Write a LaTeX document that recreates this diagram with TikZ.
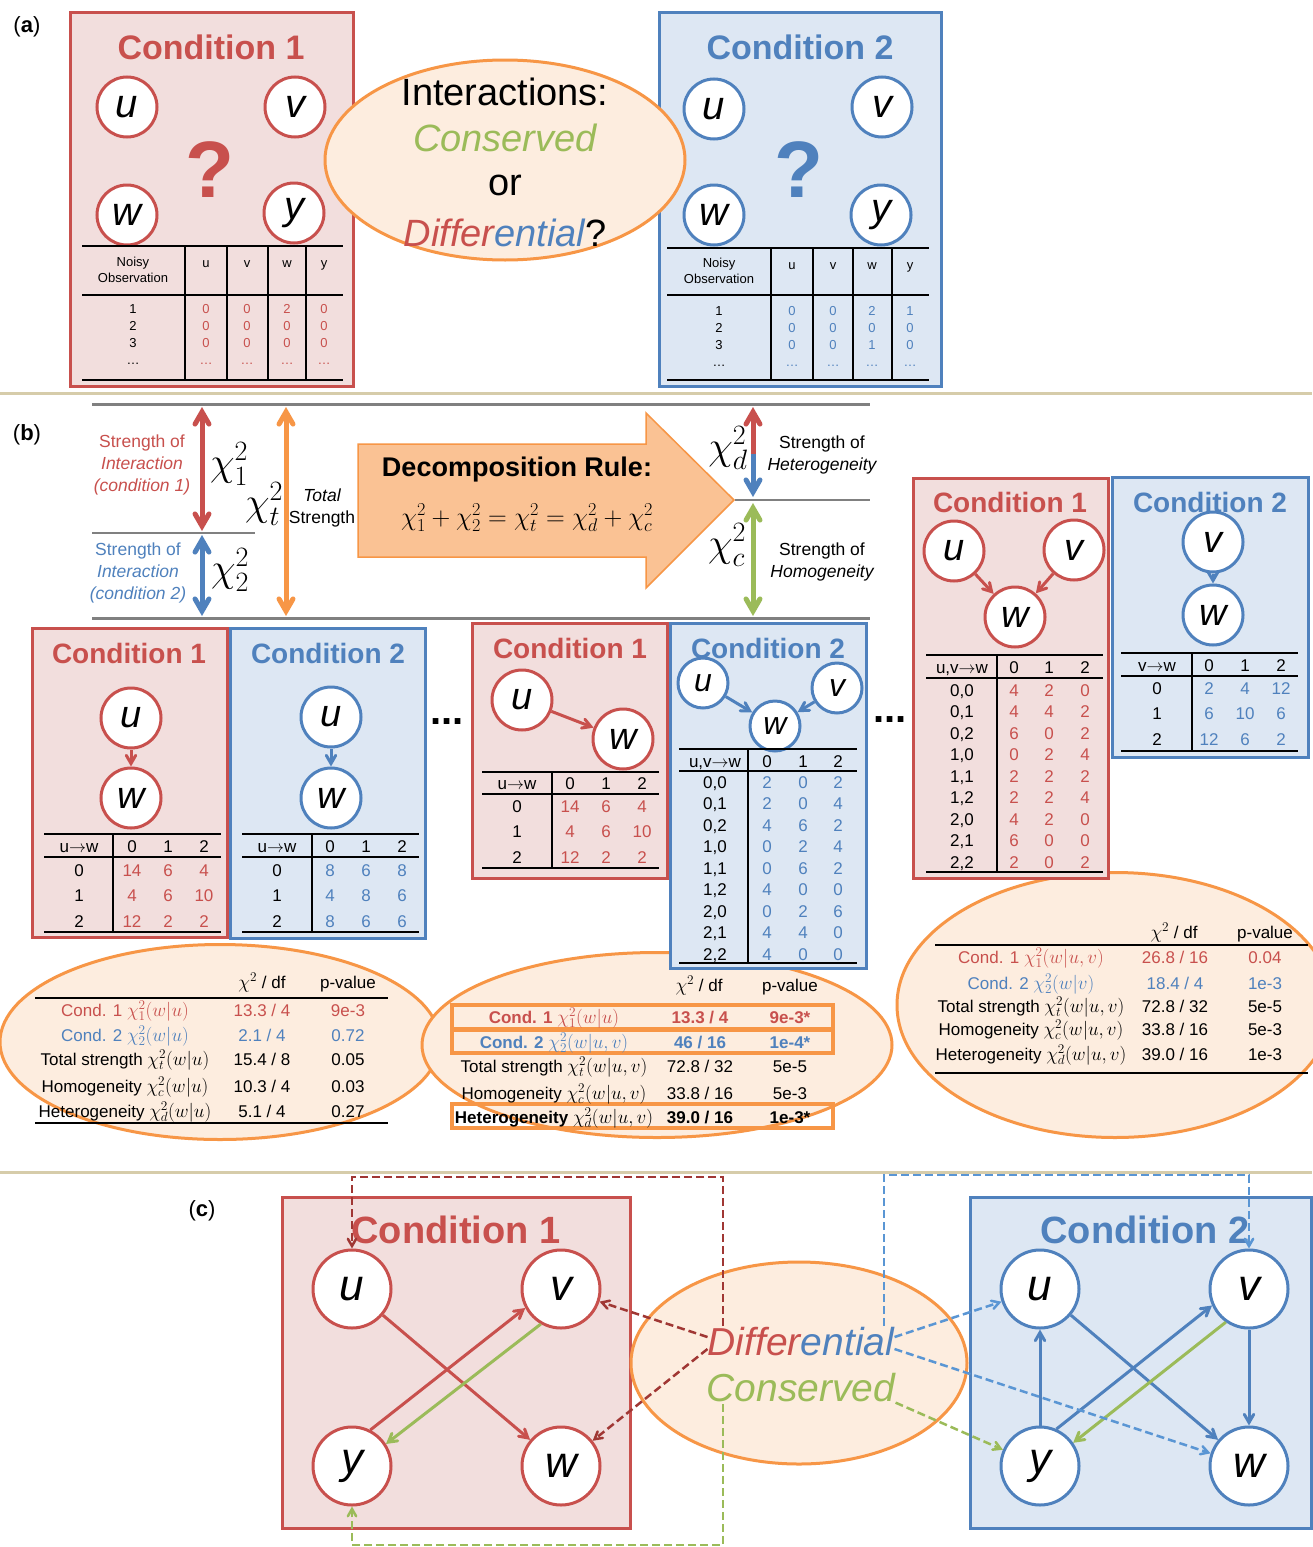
\RequirePackage{fix-cm}
\documentclass[tikz,border=0pt]{standalone}
\usepackage{fontspec}
\setmainfont{Liberation Sans}
\usepackage{tikz}
\usetikzlibrary{shapes,arrows}
\usetikzlibrary{automata,arrows,positioning,calc}

\definecolor{cred}{RGB}{200,80,77}
\definecolor{cblue}{RGB}{79,129,189}
\definecolor{cgreen}{RGB}{155,187,89}
\definecolor{corange}{RGB}{247,150,70}
\definecolor{cpink}{RGB}{242,222,221}
\definecolor{cpale}{RGB}{221,231,243}
\definecolor{cpeach}{RGB}{253,237,223}
\definecolor{carrow}{RGB}{250,194,148}
\definecolor{csep}{RGB}{214,204,170}
\definecolor{cgrey}{RGB}{128,128,128}
\definecolor{cdarkred}{RGB}{160,55,52}
\definecolor{cdashblue}{RGB}{90,150,212}
\newcommand{\fsz}[2]{\fontsize{#1}{#2}\selectfont}
\newcommand{\mth}[1]{{\fsz{19}{20}$#1$}}

\begin{document}
\begin{tikzpicture}[x=1pt, y=-1pt, >=angle 60, semithick]
\tikzstyle{every state}=[fill=white,draw=black,line width=3pt,inner sep=0pt,minimum size=60pt,font=\fsz{40}{40}\itshape]
\tikzstyle{redstate}=[state,draw=cred]
\tikzstyle{bluestate}=[state,draw=cblue]
\tikzstyle{redbox}=[draw=cred,fill=cpink,line width=3pt]
\tikzstyle{bluebox}=[draw=cblue,fill=cpale,line width=3pt]
\tikzstyle{oval}=[ellipse,draw=corange,fill=cpeach,line width=3pt,inner sep=0pt]
\tikzstyle{plabel}=[font=\fsz{22}{24},inner sep=0pt]
\tikzstyle{bigtitle}=[font=\fsz{34}{36}\bfseries,inner sep=0pt]
\tikzstyle{condtitle}=[font=\fsz{28}{30}\bfseries,inner sep=0pt]
\tikzstyle{qmark}=[font=\fsz{80}{80}\bfseries,inner sep=0pt]
\tikzstyle{qtext}=[font=\fsz{38}{40},inner sep=0pt]
\tikzstyle{obscell}=[font=\fsz{13}{16},inner sep=0pt,text height=9pt,text depth=0pt]
\tikzstyle{cell}=[font=\fsz{17}{20},inner sep=0pt,text height=12pt,text depth=0pt]
\tikzstyle{sidetext}=[font=\fsz{17.5}{22},align=center,inner sep=0pt]
\tikzstyle{chilab}=[font=\fsz{40}{40},inner sep=0pt]
\tikzstyle{tabrule}=[line width=2pt]
\tikzstyle{rededge}=[draw=cred,line width=3pt,->]
\tikzstyle{blueedge}=[draw=cblue,line width=3pt,->]
\tikzstyle{greenedge}=[draw=cgreen,line width=3pt,->]
\tikzstyle{bigline}=[line width=5pt]
\tikzstyle{dashline}=[line width=2.5pt,dash pattern=on 8pt off 4pt,->]

\useasboundingbox (0,0) rectangle (1312,1547);
\fill[white] (0,0) rectangle (1312,1547);

% separators
\draw[csep, line width=3pt] (0,393) -- (1312,393);
\draw[csep, line width=3pt] (0,1172) -- (1312,1172);

%%%%%%%%%% (a)
\node[plabel] (pa) at (27,27) {(\textbf{a})};
\draw[redbox] (70,12) rectangle (353,386);
\draw[bluebox] (659,12) rectangle (941,386);
\node[bigtitle, text=cred] (a1t) at (211,47) {Condition 1};
\node[bigtitle, text=cblue] (a2t) at (800,47) {Condition 2};

\node[redstate] (a1u) at (127,107) {u};
\node[redstate] (a1v) at (295,107) {v};
\node[redstate] (a1w) at (127,215) {w};
\node[redstate] (a1y) at (294,213) {y};
\node[qmark, text=cred] (a1q) at (210,170) {?};
\node[bluestate] (a2u) at (714,109) {u};
\node[bluestate] (a2v) at (882,107) {v};
\node[bluestate] (a2w) at (714,215) {w};
\node[bluestate] (a2y) at (881,215) {y};
\node[qmark, text=cblue] (a2q) at (799,170) {?};

% noisy observations, condition 1
\draw[tabrule] (82,246) -- (343,246) (82,295) -- (343,295) (82,380) -- (343,380);
\foreach \x in {185,227,268,306} \draw[tabrule] (\x,246) -- (\x,380);
\node[font=\fsz{13}{16}, align=center, inner sep=0pt] (a1h) at (133,270) {Noisy\\Observation};
\foreach \hd/\x [count=\i] in {u/206,v/247,w/287,y/324}
  \node[obscell] (a1h\i) at (\x,263) {\hd};
\foreach \r/\va/\vb/\vc/\vd [count=\i] in {1/0/0/2/0, 2/0/0/0/0, 3/0/0/0/0, \dots/\dots/\dots/\dots/\dots} {
  \node[obscell] (a1r\i) at (133,{292+17*\i}) {\r};
  \node[obscell, text=cred] (a1a\i) at (206,{292+17*\i}) {\va};
  \node[obscell, text=cred] (a1b\i) at (247,{292+17*\i}) {\vb};
  \node[obscell, text=cred] (a1c\i) at (287,{292+17*\i}) {\vc};
  \node[obscell, text=cred] (a1d\i) at (324,{292+17*\i}) {\vd};
}

% noisy observations, condition 2
\draw[tabrule] (667,248) -- (929,248) (667,295) -- (929,295) (667,380) -- (929,380);
\foreach \x in {771,813,853,892} \draw[tabrule] (\x,248) -- (\x,380);
\node[font=\fsz{13}{16}, align=center, inner sep=0pt] (a2h) at (719,271) {Noisy\\Observation};
\foreach \hd/\x [count=\i] in {u/792,v/833,w/872,y/910}
  \node[obscell] (a2h\i) at (\x,265) {\hd};
\foreach \r/\va/\vb/\vc/\vd [count=\i] in {1/0/0/2/1, 2/0/0/0/0, 3/0/0/1/0, \dots/\dots/\dots/\dots/\dots} {
  \node[obscell] (a2r\i) at (719,{294+17*\i}) {\r};
  \node[obscell, text=cblue] (a2a\i) at (792,{294+17*\i}) {\va};
  \node[obscell, text=cblue] (a2b\i) at (833,{294+17*\i}) {\vb};
  \node[obscell, text=cblue] (a2c\i) at (872,{294+17*\i}) {\vc};
  \node[obscell, text=cblue] (a2d\i) at (910,{294+17*\i}) {\vd};
}

\node[oval, minimum width=360pt, minimum height=200pt] (q0) at (505,160) {};
\node[qtext] (q1) at (505,92) {Interactions:};
\node[qtext, text=cgreen] (q2) at (505,138) {\itshape Conserved};
\node[qtext] (q3) at (505,185) {or};
\node[qtext] (q4) at (505,233) {\textcolor{cred}{\itshape Differ}\textcolor{cblue}{\itshape ential}?};

%%%%%%%%%% (b)
\node[plabel] (pb) at (27,435) {(\textbf{b})};
\draw[cgrey, line width=3pt] (92,404) -- (870,404);
\draw[cgrey, line width=3pt] (92,618) -- (870,618);
\draw[cgrey, line width=1.2pt] (92,533) -- (255,533);
\draw[cgrey, line width=1.2pt] (735,500) -- (870,500);

\coordinate (s1t) at (202,407);
\coordinate (s1b) at (202,531);
\coordinate (s2t) at (202,535);
\coordinate (s2b) at (202,616);
\coordinate (stt) at (286,407);
\coordinate (stb) at (286,616);
\coordinate (sdt) at (753,407);
\coordinate (sdm) at (753,454);
\coordinate (sdb) at (753,497);
\coordinate (sct) at (753,503);
\coordinate (scb) at (753,616);
\draw[bigline, cred, <->] (s1t) -- (s1b);
\draw[bigline, cblue, <->] (s2t) -- (s2b);
\draw[bigline, corange, <->] (stt) -- (stb);
\draw[bigline, cred, ->] (sdm) -- (sdt);
\draw[bigline, cblue, ->] (sdm) -- (sdb);
\draw[bigline, cgreen, <->] (sct) -- (scb);

\node[sidetext, text=cred] (t1) at (142,465) {Strength of\\\itshape Interaction\\\itshape (condition 1)};
\node[sidetext, text=cblue] (t2) at (138,573) {Strength of\\\itshape Interaction\\\itshape (condition 2)};
\node[sidetext] (tt) at (322,508) {\itshape Total\\Strength};
\node[sidetext] (td) at (822,455) {Strength of\\\itshape Heterogeneity};
\node[sidetext] (tc) at (822,562) {Strength of\\\itshape Homogeneity};
\node[chilab] (x1) at (229,464) {$\chi_1^2$};
\node[chilab] (xt) at (264,504) {$\chi_t^2$};
\node[chilab] (x2) at (230,570) {$\chi_2^2$};
\node[chilab] (xd) at (728,448) {$\chi_d^2$};
\node[chilab] (xc) at (727,545) {$\chi_c^2$};

\draw[fill=carrow, draw=corange, line width=1.5pt] (358,444) -- (646,444) -- (646,413) -- (734,500) -- (646,588) -- (646,557) -- (358,557) -- cycle;
\node[font=\fsz{27}{30}\bfseries, inner sep=0pt] (rl1) at (517,470) {Decomposition Rule:};
\node[font=\fsz{26}{30}, inner sep=0pt] (rl2) at (527,518) {$\chi_1^2+\chi_2^2=\chi_t^2=\chi_d^2+\chi_c^2$};

% test statistics
\node[oval, minimum width=440pt, minimum height=195pt] (e1) at (220,1042) {};
\node[oval, minimum width=470pt, minimum height=185pt] (e2) at (657,1045) {};
\node[oval, minimum width=436pt, minimum height=265pt] (e3) at (1115,1005) {};

% u -> w
\draw[redbox] (32,628) rectangle (227,937);
\draw[bluebox] (230,628) rectangle (425,938);
\node[condtitle, text=cred] (l1t) at (129,653) {Condition 1};
\node[condtitle, text=cblue] (l2t) at (328,653) {Condition 2};
\node[redstate, font=\fsz{38}{38}\itshape] (l1u) at (131,718) {u};
\node[redstate, font=\fsz{38}{38}\itshape] (l1w) at (131,798) {w};
\node[bluestate, font=\fsz{38}{38}\itshape] (l2u) at (331,717) {u};
\node[bluestate, font=\fsz{38}{38}\itshape] (l2w) at (331,798) {w};
\path (l1u) edge[rededge] (l1w)
      (l2u) edge[blueedge] (l2w);

\draw[tabrule] (44,834) -- (221,834) (44,857) -- (221,857) (44,932) -- (221,932) (113,834) -- (113,932);
\node[cell] (l1h) at (79,846) {u$\rightarrow$w};
\foreach \hd/\x [count=\i] in {0/132,1/168,2/204}
  \node[cell] (l1h\i) at (\x,846) {\hd};
\foreach \r/\va/\vb/\vc [count=\i] in {0/14/6/4, 1/4/6/10, 2/12/2/2} {
  \node[cell] (l1r\i) at (79,{844.5+25.5*\i}) {\r};
  \node[cell, text=cred] (l1a\i) at (132,{844.5+25.5*\i}) {\va};
  \node[cell, text=cred] (l1b\i) at (168,{844.5+25.5*\i}) {\vb};
  \node[cell, text=cred] (l1c\i) at (204,{844.5+25.5*\i}) {\vc};
}
\draw[tabrule] (242,834) -- (419,834) (242,857) -- (419,857) (242,932) -- (419,932) (312,834) -- (312,932);
\node[cell] (l2h) at (277,846) {u$\rightarrow$w};
\foreach \hd/\x [count=\i] in {0/330,1/366,2/402}
  \node[cell] (l2h\i) at (\x,846) {\hd};
\foreach \r/\va/\vb/\vc [count=\i] in {0/8/6/8, 1/4/8/6, 2/8/6/6} {
  \node[cell] (l2r\i) at (277,{844.5+25.5*\i}) {\r};
  \node[cell, text=cblue] (l2a\i) at (330,{844.5+25.5*\i}) {\va};
  \node[cell, text=cblue] (l2b\i) at (366,{844.5+25.5*\i}) {\vb};
  \node[cell, text=cblue] (l2c\i) at (402,{844.5+25.5*\i}) {\vc};
}

\node[font=\fsz{40}{40}\bfseries, inner sep=0pt] (dots1) at (447,722) {...};
\node[font=\fsz{40}{40}\bfseries, inner sep=0pt] (dots2) at (890,720) {...};

% u -> w, and u,v -> w
\draw[redbox] (472,623) rectangle (667,878);
\draw[bluebox] (670,623) rectangle (866,968);
\node[condtitle, text=cred] (m1t) at (570,648) {Condition 1};
\node[condtitle, text=cblue] (m2t) at (768,648) {Condition 2};
\node[redstate, font=\fsz{38}{38}\itshape] (m1u) at (522,700) {u};
\node[redstate, font=\fsz{38}{38}\itshape] (m1w) at (623,739) {w};
\node[bluestate, minimum size=50pt, font=\fsz{32}{32}\itshape] (m2u) at (703,683) {u};
\node[bluestate, minimum size=50pt, font=\fsz{32}{32}\itshape] (m2v) at (837,688) {v};
\node[bluestate, minimum size=50pt, font=\fsz{32}{32}\itshape] (m2w) at (775,726) {w};
\path (m1u) edge[rededge] (m1w)
      (m2u) edge[blueedge] (m2w)
      (m2v) edge[blueedge] (m2w);

\draw[tabrule] (482,772) -- (659,772) (482,794) -- (659,794) (482,868) -- (659,868) (552,772) -- (552,868);
\node[cell] (m1h) at (517,783) {u$\rightarrow$w};
\foreach \hd/\x [count=\i] in {0/570,1/606,2/642}
  \node[cell] (m1h\i) at (\x,783) {\hd};
\foreach \r/\va/\vb/\vc [count=\i] in {0/14/6/4, 1/4/6/10, 2/12/2/2} {
  \node[cell] (m1r\i) at (517,{780.5+25.5*\i}) {\r};
  \node[cell, text=cred] (m1a\i) at (570,{780.5+25.5*\i}) {\va};
  \node[cell, text=cred] (m1b\i) at (606,{780.5+25.5*\i}) {\vb};
  \node[cell, text=cred] (m1c\i) at (642,{780.5+25.5*\i}) {\vc};
}
\draw[tabrule] (679,749) -- (857,749) (679,771) -- (857,771) (679,963) -- (857,963) (748,749) -- (748,963);
\node[cell] (m2h) at (715,761) {u,v$\rightarrow$w};
\foreach \hd/\x [count=\i] in {0/767,1/803,2/838}
  \node[cell] (m2h\i) at (\x,761) {\hd};
\foreach \r/\va/\vb/\vc [count=\i] in {{0,0}/2/0/2, {0,1}/2/0/4, {0,2}/4/6/2, {1,0}/0/2/4, {1,1}/0/6/2, {1,2}/4/0/0, {2,0}/0/2/6, {2,1}/4/4/0, {2,2}/4/0/0} {
  \node[cell] (m2r\i) at (715,{760.5+21.5*\i}) {\r};
  \node[cell, text=cblue] (m2a\i) at (767,{760.5+21.5*\i}) {\va};
  \node[cell, text=cblue] (m2b\i) at (803,{760.5+21.5*\i}) {\vb};
  \node[cell, text=cblue] (m2c\i) at (838,{760.5+21.5*\i}) {\vc};
}

% u,v -> w, and v -> w
\draw[redbox] (913,478) rectangle (1108,878);
\draw[bluebox] (1112,477) rectangle (1308,757);
\node[condtitle, text=cred] (r1t) at (1010,502) {Condition 1};
\node[condtitle, text=cblue] (r2t) at (1210,502) {Condition 2};
\node[redstate, font=\fsz{38}{38}\itshape] (r1u) at (954,551) {u};
\node[redstate, font=\fsz{38}{38}\itshape] (r1v) at (1074,550) {v};
\node[redstate, font=\fsz{38}{38}\itshape] (r1w) at (1015,617) {w};
\node[bluestate, font=\fsz{38}{38}\itshape] (r2v) at (1213,542) {v};
\node[bluestate, font=\fsz{38}{38}\itshape] (r2w) at (1213,615) {w};
\path (r1u) edge[rededge] (r1w)
      (r1v) edge[rededge] (r1w)
      (r2v) edge[blueedge] (r2w);

\draw[tabrule] (926,655) -- (1103,655) (926,678) -- (1103,678) (926,872) -- (1103,872) (997,655) -- (997,872);
\node[cell] (r1h) at (962,667) {u,v$\rightarrow$w};
\foreach \hd/\x [count=\i] in {0/1014,1/1049,2/1085}
  \node[cell] (r1h\i) at (\x,667) {\hd};
\foreach \r/\va/\vb/\vc [count=\i] in {{0,0}/4/2/0, {0,1}/4/4/2, {0,2}/6/0/2, {1,0}/0/2/4, {1,1}/2/2/2, {1,2}/2/2/4, {2,0}/4/2/0, {2,1}/6/0/0, {2,2}/2/0/2} {
  \node[cell] (r1r\i) at (962,{668.5+21.5*\i}) {\r};
  \node[cell, text=cred] (r1a\i) at (1014,{668.5+21.5*\i}) {\va};
  \node[cell, text=cred] (r1b\i) at (1049,{668.5+21.5*\i}) {\vb};
  \node[cell, text=cred] (r1c\i) at (1085,{668.5+21.5*\i}) {\vc};
}
\draw[tabrule] (1121,653) -- (1298,653) (1121,676) -- (1298,676) (1121,751) -- (1298,751) (1192,653) -- (1192,751);
\node[cell] (r2h) at (1157,665) {v$\rightarrow$w};
\foreach \hd/\x [count=\i] in {0/1209,1/1245,2/1281}
  \node[cell] (r2h\i) at (\x,665) {\hd};
\foreach \r/\va/\vb/\vc [count=\i] in {0/2/4/12, 1/6/10/6, 2/12/6/2} {
  \node[cell] (r2r\i) at (1157,{662.5+25.5*\i}) {\r};
  \node[cell, text=cblue] (r2a\i) at (1209,{662.5+25.5*\i}) {\va};
  \node[cell, text=cblue] (r2b\i) at (1245,{662.5+25.5*\i}) {\vb};
  \node[cell, text=cblue] (r2c\i) at (1281,{662.5+25.5*\i}) {\vc};
}

% chi2 tables
\node[cell] (e1h1) at (262,982) {\mth{\chi^2} / df};
\node[cell] (e1h2) at (348,982) {p-value};
\draw[tabrule] (35,998) -- (388,998) (35,1123) -- (388,1123);
\foreach \lab/\va/\vb/\col/\yy [count=\i] in {
  {Cond. 1 \mth{\chi_1^2(w|u)}}/{13.3 / 4}/9e-3/cred/1010,
  {Cond. 2 \mth{\chi_2^2(w|u)}}/{2.1 / 4}/0.72/cblue/1035,
  {Total strength \mth{\chi_t^2(w|u)}}/{15.4 / 8}/0.05/black/1059,
  {Homogeneity \mth{\chi_c^2(w|u)}}/{10.3 / 4}/0.03/black/1086,
  {Heterogeneity \mth{\chi_d^2(w|u)}}/{5.1 / 4}/0.27/black/1111} {
  \node[cell, text=\col] (e1l\i) at (125,\yy) {\lab};
  \node[cell, text=\col] (e1v\i) at (262,\yy) {\va};
  \node[cell, text=\col] (e1p\i) at (348,\yy) {\vb};
}

\node[cell] (e2h1) at (699,985) {\mth{\chi^2} / df};
\node[cell] (e2h2) at (790,985) {p-value};
\foreach \yy/\hh in {1005/1029, 1030/1053, 1104/1128}
  \draw[corange, line width=4pt] (452,\yy) rectangle (833,\hh);
\foreach \lab/\va/\vb/\col/\yy [count=\i] in {
  {\bfseries Cond. 1 \mth{\chi_1^2(w|u)}}/{\bfseries 13.3 / 4}/{\bfseries 9e-3*}/cred/1017,
  {\bfseries Cond. 2 \mth{\chi_2^2(w|u,v)}}/{\bfseries 46 / 16}/{\bfseries 1e-4*}/cblue/1042,
  {Total strength \mth{\chi_t^2(w|u,v)}}/{72.8 / 32}/5e-5/black/1066,
  {Homogeneity \mth{\chi_c^2(w|u,v)}}/{33.8 / 16}/5e-3/black/1093,
  {\bfseries Heterogeneity \mth{\chi_d^2(w|u,v)}}/{\bfseries 39.0 / 16}/{\bfseries 1e-3*}/black/1117} {
  \node[cell, text=\col] (e2l\i) at (554,\yy) {\lab};
  \node[cell, text=\col] (e2v\i) at (700,\yy) {\va};
  \node[cell, text=\col] (e2p\i) at (790,\yy) {\vb};
}

\node[cell] (e3h1) at (1174,932) {\mth{\chi^2} / df};
\node[cell] (e3h2) at (1265,932) {p-value};
\draw[tabrule] (935,945) -- (1308,945) (935,1073) -- (1308,1073);
\foreach \lab/\va/\vb/\col/\yy [count=\i] in {
  {Cond. 1 \mth{\chi_1^2(w|u,v)}}/{26.8 / 16}/0.04/cred/957,
  {Cond. 2 \mth{\chi_2^2(w|v)}}/{18.4 / 4}/1e-3/cblue/983,
  {Total strength \mth{\chi_t^2(w|u,v)}}/{72.8 / 32}/5e-5/black/1006,
  {Homogeneity \mth{\chi_c^2(w|u,v)}}/{33.8 / 16}/5e-3/black/1029,
  {Heterogeneity \mth{\chi_d^2(w|u,v)}}/{39.0 / 16}/1e-3/black/1054} {
  \node[cell, text=\col] (e3l\i) at (1031,\yy) {\lab};
  \node[cell, text=\col] (e3v\i) at (1175,\yy) {\va};
  \node[cell, text=\col] (e3p\i) at (1265,\yy) {\vb};
}

%%%%%%%%%% (c)
\node[plabel] (pc) at (202,1211) {(\textbf{c})};
\draw[redbox] (282,1197) rectangle (630,1528);
\draw[bluebox] (970,1197) rectangle (1311,1528);
\node[oval, minimum width=336pt, minimum height=202pt] (cc) at (799,1363) {};
\node[bigtitle, font=\fsz{38}{40}\bfseries, text=cred] (c1t) at (456,1230) {Condition 1};
\node[bigtitle, font=\fsz{38}{40}\bfseries, text=cblue] (c2t) at (1145,1230) {Condition 2};

\node[redstate, minimum size=78pt, font=\fsz{44}{44}\itshape] (c1u) at (352,1289) {u};
\node[redstate, minimum size=78pt, font=\fsz{44}{44}\itshape] (c1v) at (561,1289) {v};
\node[redstate, minimum size=78pt, font=\fsz{44}{44}\itshape] (c1y) at (352,1466) {y};
\node[redstate, minimum size=78pt, font=\fsz{44}{44}\itshape] (c1w) at (561,1466) {w};
\node[bluestate, minimum size=78pt, font=\fsz{44}{44}\itshape] (c2u) at (1040,1289) {u};
\node[bluestate, minimum size=78pt, font=\fsz{44}{44}\itshape] (c2v) at (1249,1289) {v};
\node[bluestate, minimum size=78pt, font=\fsz{44}{44}\itshape] (c2y) at (1040,1466) {y};
\node[bluestate, minimum size=78pt, font=\fsz{44}{44}\itshape] (c2w) at (1249,1466) {w};
\path (c1u) edge[rededge] (c1w)
      (c1y.63) edge[rededge] (c1v.208)
      (c1v.240) edge[greenedge] (c1y.33);
\path (c2y) edge[blueedge] (c2u)
      (c2v) edge[blueedge] (c2w)
      (c2u) edge[blueedge] (c2w)
      (c2y.66) edge[blueedge] (c2v.204)
      (c2v.235) edge[greenedge] (c2y.35);

\node[font=\fsz{39}{40}\itshape, inner sep=0pt] (diff) at (801,1342) {\textcolor{cred}{Differ}\textcolor{cblue}{ential}};
\node[font=\fsz{39}{40}\itshape, inner sep=0pt, text=cgreen] (cons) at (801,1388) {Conserved};

\coordinate (rq1) at (723,1326);
\coordinate (rq2) at (723,1177);
\coordinate (bq1) at (884,1326);
\coordinate (bq2) at (884,1175);
\coordinate (gq1) at (723,1404);
\coordinate (gq2) at (723,1545);
\draw[dashline, cdarkred] (rq1) -- (rq2) -| (c1u);
\draw[dashline, cdashblue] (bq1) -- (bq2) -| (c2v);
\draw[dashline, cgreen] (gq1) -- (gq2) -| (c1y);
\path ([yshift=5pt]diff.west) edge[dashline, cdarkred] (c1v)
      ([yshift=-7pt]diff.west) edge[dashline, cdarkred] (c1w)
      ([yshift=5pt]diff.east) edge[dashline, cdashblue] (c2u)
      ([yshift=-7pt]diff.east) edge[dashline, cdashblue] (c2w)
      (cons.south east) edge[dashline, cgreen] (c2y);

\end{tikzpicture}
\end{document}
